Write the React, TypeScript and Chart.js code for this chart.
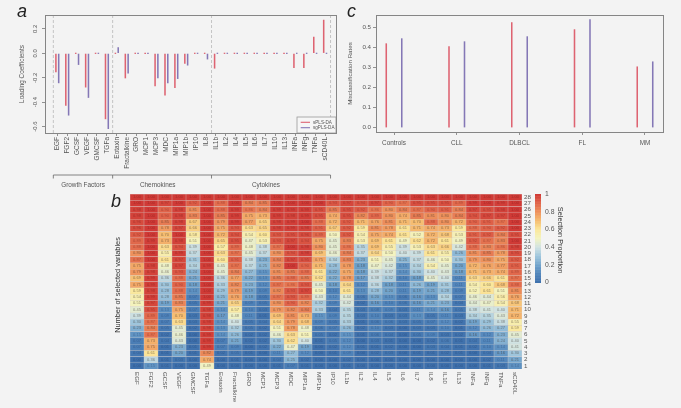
import React, { useEffect, useRef } from "react";
import { Chart, registerables } from "chart.js";

Chart.register(...registerables);

const FONT = "'Liberation Sans', Arial, sans-serif";
const TEXT = "#555555";
const FRAME = "#858585";
const RED = "rgba(216,62,80,0.8)";
const BLUE = "rgba(112,96,170,0.85)";

// Panel a
const biomarkers = ["EGF","FGF2","GCSF","VEGF","GMCSF","TGFa","Eotaxin","Fractalkine","GRO","MCP1","MCP3","MDC","MIP1a","MIP1b","IP10","IL8","IL1b","IL2","IL4","IL5","IL6","IL7","IL10","IL13","INFa","INFg","TNFa","sCD40L"];
const splsLoadings = [-0.155,-0.43,0,-0.28,0,-0.54,0,-0.205,0,0,-0.27,-0.345,-0.285,-0.085,0,0,-0.125,0,0,0,0,0,0,0,-0.12,-0.12,0.135,0.275];
const sgplsLoadings = [-0.245,-0.51,-0.095,-0.365,0,-0.62,0.05,-0.165,0,0,-0.205,-0.245,-0.21,-0.1,0,-0.05,0,0,0,0,0,0,0,0,0,0,0,0];
const loadingTicks = [-0.6,-0.4,-0.2,0,0.2];
const groupBreaks = [0.6,6.58,16.55,28.55];
const groupNames = ["Growth Factors","Chemokines","Cytokines"];

// Panel c
const classes = ["Controls","CLL","DLBCL","FL","MM"];
const splsRates = [0.42,0.405,0.525,0.49,0.305];
const sgplsRates = [0.445,0.43,0.455,0.54,0.33];
const rateTicks = [0,0.1,0.2,0.3,0.4,0.5];

// Panel b
const heatColumns = ["EGF","FGF2","GCSF","VEGF","GMCSF","TGFa","Eotaxin","Fractalkine","GRO","MCP1","MCP3","MDC","MIP1a","MIP1b","IP10","IL1b","IL2","IL4","IL5","IL6","IL7","IL8","IL10","IL13","INFa","INFg","TNFa","sCD40L"];
const colorbarTicks = [0,0.2,0.4,0.6,0.8,1];
const selectionRows = [
[1,1,1,1,1,1,1,1,1,1,1,1,1,1,1,1,1,1,1,1,1,1,1,1,1,1,1,1],
[1,1,.97,1,.92,1,.88,1,.84,.85,1,1,1,1,.93,.97,.94,.97,.9,.87,.95,.95,.95,.89,.99,1,.99,1],
[.98,1,.9,.98,.81,1,.88,.99,.86,.84,.99,.99,.99,.95,.85,.95,.92,.86,.8,.84,.87,.9,.91,.84,.97,.95,.98,1],
[.98,1,.9,.98,.83,1,.85,.99,.75,.73,.99,.98,.99,.95,.74,.95,.82,.89,.8,.74,.85,.81,.8,.84,.94,.97,.97,1],
[.96,1,.85,.98,.67,1,.79,.99,.77,.65,.98,.99,1,.88,.72,.92,.71,.76,.81,.71,.7,.88,.8,.72,.9,.91,.87,1],
[.96,1,.78,.97,.66,1,.75,.93,.63,.65,.98,.99,.98,.91,.67,.92,.59,.81,.78,.61,.71,.74,.73,.59,.88,.9,.92,1],
[.92,1,.7,1,.58,1,.72,.94,.54,.6,.93,.95,.96,.89,.5,.92,.54,.75,.74,.61,.52,.72,.68,.53,.91,.92,.84,.95],
[.89,.99,.73,.98,.51,1,.65,.95,.47,.53,.93,.97,.94,.75,.45,.83,.53,.69,.61,.49,.62,.72,.61,.49,.92,.87,.83,1],
[.88,1,.63,.94,.39,1,.57,.89,.48,.38,.87,1,.98,.8,.45,.86,.35,.69,.55,.39,.53,.63,.66,.42,.88,.83,.86,.98],
[.8,1,.55,.99,.37,1,.63,.87,.45,.37,.8,.94,.98,.69,.46,.84,.37,.64,.5,.4,.39,.61,.55,.26,.81,.85,.78,.95],
[.87,1,.61,.97,.31,1,.6,.91,.38,.23,.84,.97,.95,.75,.34,.83,.23,.51,.45,.25,.37,.46,.5,.3,.79,.8,.75,.92],
[.75,.98,.48,.97,.34,.99,.45,.87,.37,.25,.82,1,.9,.71,.28,.78,.18,.47,.42,.15,.34,.54,.45,.2,.72,.76,.77,.91],
[.79,.98,.46,.93,.24,1,.45,.84,.27,.15,.81,.85,.88,.61,.22,.75,.18,.39,.37,.14,.3,.4,.43,.18,.71,.73,.74,.89],
[.69,.99,.36,.88,.21,1,.36,.77,.22,.13,.85,.88,.85,.62,.22,.78,.17,.38,.32,.1,.18,.45,.4,.11,.63,.66,.61,.87],
[.75,.99,.3,.9,.18,1,.33,.82,.23,.12,.87,.86,.93,.45,.18,.64,.12,.36,.18,.11,.26,.19,.31,.11,.54,.6,.68,.88],
[.59,.98,.28,.88,.14,1,.29,.79,.19,.09,.82,.93,.97,.5,.1,.61,.13,.28,.2,.11,.19,.21,.28,.09,.52,.61,.51,.81],
[.54,.99,.28,.85,.07,1,.25,.76,.18,.05,.87,.93,.89,.43,.12,.44,.06,.2,.13,.06,.16,.13,.34,.07,.46,.44,.56,.76],
[.51,.97,.19,.83,.05,.99,.21,.65,.09,.05,.8,.9,.82,.32,.09,.42,.02,.16,.1,.06,.16,.21,.23,.04,.44,.47,.54,.68],
[.45,.95,.13,.75,.07,.98,.14,.57,.1,.03,.79,.82,.84,.33,.04,.35,.03,.08,.09,.03,.11,.14,.16,.05,.38,.41,.4,.71],
[.39,.89,.09,.7,.03,.98,.17,.48,.11,.01,.69,.81,.73,.15,.09,.35,.03,.1,.03,.03,.13,.05,.11,.03,.34,.35,.43,.72],
[.3,.87,.07,.63,.03,.98,.14,.4,.05,.04,.64,.79,.68,.09,.05,.33,.01,.06,.06,.03,.05,.07,.12,.02,.19,.29,.38,.55],
[.23,.84,.05,.45,.02,.98,.13,.32,.05,.02,.51,.78,.48,.06,.07,.26,.02,.1,.03,0,.03,.03,.1,.01,.12,.26,.27,.59],
[.15,.87,.02,.46,0,.99,.14,.26,.02,.02,.46,.63,.51,.05,.02,.15,.01,.06,.04,0,.05,.09,.03,.02,.16,.12,.23,.45],
[.07,.73,.04,.43,0,.99,.07,.21,.02,.02,.3,.62,.4,.01,.05,.12,0,.03,.01,0,0,.02,.06,.01,.04,.11,.24,.4],
[.07,.75,.01,.23,.01,.99,.07,.09,0,.02,.22,.47,.19,0,.02,.12,.01,.01,.02,0,0,.03,.04,.01,.02,.1,.14,.41],
[.04,.61,.01,.2,.01,.82,.02,.05,.01,0,.11,.27,.12,0,.01,.09,0,.02,.03,0,.01,.01,.02,.01,0,.04,.16,.3],
[0,.36,.01,.03,0,.74,0,.01,0,0,.04,.25,.02,0,0,.02,0,0,0,0,0,0,0,0,0,.02,.11,.21],
[0,.15,.01,0,0,.49,0,0,0,0,.01,.07,.01,0,0,.01,0,0,0,0,0,0,0,0,0,.01,.03,.14],
];
const rowLabels = selectionRows.map((_, i) => String(selectionRows.length - i));

const colorStops: [number, number[]][] = [
  [0,[62,112,172]],[0.1,[80,132,186]],[0.2,[114,164,204]],[0.3,[158,197,220]],[0.4,[208,226,226]],
  [0.5,[243,243,192]],[0.6,[251,231,154]],[0.7,[246,189,113]],[0.8,[238,145,92]],[0.9,[224,100,74]],[1,[208,58,54]],
];
function heat(v: number) {
  for (let i = 1; i < colorStops.length; i++) {
    if (v <= colorStops[i][0]) {
      const [a, ca] = colorStops[i - 1];
      const [b, cb] = colorStops[i];
      const t = (v - a) / (b - a);
      return `rgb(${ca.map((c, k) => Math.round(c + (cb[k] - c) * t)).join(",")})`;
    }
  }
  return "rgb(208,58,54)";
}

const framePlugin = {
  id: "frame",
  afterDraw(chart: any) {
    const { ctx, chartArea: a } = chart;
    ctx.save();
    ctx.strokeStyle = FRAME;
    ctx.lineWidth = 1;
    ctx.strokeRect(Math.round(a.left) + 0.5, Math.round(a.top) + 0.5, a.right - a.left, a.bottom - a.top);
    ctx.restore();
  },
};

function letter(ctx: any, s: string, x: number, y: number) {
  ctx.save();
  ctx.fillStyle = "#222";
  ctx.font = `italic 18px ${FONT}`;
  ctx.textAlign = "left";
  ctx.textBaseline = "alphabetic";
  ctx.fillText(s, x, y);
  ctx.restore();
}

function baseTicks(size: number) {
  return { color: TEXT, font: { family: FONT, size } };
}

const panelA = {
  id: "panelA",
  beforeDatasetsDraw(chart: any) {
    const { ctx, chartArea: a, scales } = chart;
    ctx.save();
    ctx.strokeStyle = "#b8b8b8";
    ctx.lineWidth = 0.8;
    ctx.setLineDash([3, 2]);
    for (const b of groupBreaks) {
      const x = scales.x.getPixelForValue(b);
      ctx.beginPath();
      ctx.moveTo(x, a.top);
      ctx.lineTo(x, a.bottom);
      ctx.stroke();
    }
    ctx.restore();
  },
  afterDraw(chart: any) {
    const { ctx, chartArea: a, scales } = chart;
    letter(ctx, "a", 17, 17);
    ctx.save();
    ctx.strokeStyle = "#666";
    ctx.lineWidth = 0.8;
    ctx.beginPath();
    const y = 175;
    groupBreaks.forEach((b, i) => {
      const x = scales.x.getPixelForValue(b);
      ctx.moveTo(x, y);
      ctx.lineTo(x, y + 3.5);
      if (i) {
        ctx.moveTo(scales.x.getPixelForValue(groupBreaks[i - 1]), y);
        ctx.lineTo(x, y);
      }
    });
    ctx.stroke();
    ctx.fillStyle = TEXT;
    ctx.font = `6.4px ${FONT}`;
    ctx.textAlign = "center";
    ctx.textBaseline = "middle";
    const centers = [83, 157.7, 266];
    groupNames.forEach((n, i) => ctx.fillText(n, centers[i], 185));
    const lx = a.right - 39, ly = a.bottom - 16;
    ctx.fillStyle = "#f6f6f6";
    ctx.strokeStyle = "#9a9a9a";
    ctx.lineWidth = 0.8;
    ctx.fillRect(lx, ly, 39, 16);
    ctx.strokeRect(lx, ly, 39, 16);
    chart.data.datasets.forEach((d: any, i: number) => {
      const yy = ly + 5.3 + i * 5.4;
      ctx.strokeStyle = d.backgroundColor;
      ctx.lineWidth = 1.1;
      ctx.beginPath();
      ctx.moveTo(lx + 3.7, yy);
      ctx.lineTo(lx + 13, yy);
      ctx.stroke();
      ctx.fillStyle = TEXT;
      ctx.font = `4.6px ${FONT}`;
      ctx.textAlign = "left";
      ctx.fillText(d.label, lx + 16, yy);
    });
    ctx.restore();
  },
};

const panelC = {
  id: "panelC",
  afterDraw(chart: any) {
    letter(chart.ctx, "c", 7, 17);
  },
};

const panelB = {
  id: "panelB",
  afterDatasetsDraw(chart: any) {
    const { ctx, chartArea: a, scales } = chart;
    ctx.save();
    ctx.textAlign = "center";
    ctx.textBaseline = "middle";
    ctx.font = `4px ${FONT}`;
    chart.data.datasets.forEach((d: any, i: number) => {
      const meta = chart.getDatasetMeta(i);
      meta.data.forEach((el: any, j: number) => {
        const v = selectionRows[selectionRows.length - 1 - i][j];
        ctx.fillStyle = v > 0.85 ? "rgba(90,20,20,0.4)" : v > 0.15 ? "rgba(60,50,40,0.55)" : "rgba(20,40,80,0.35)";
        ctx.fillText(v.toFixed(2), el.x, (el.y + el.base) / 2);
      });
    });
    ctx.fillStyle = TEXT;
    ctx.font = `6.2px ${FONT}`;
    ctx.textAlign = "left";
    scales.x.getLabels().forEach((label: string, i: number) => {
      ctx.save();
      ctx.translate(scales.x.getPixelForTick(i), a.bottom + 3);
      ctx.rotate(Math.PI / 2);
      ctx.fillText(label, 0, 0);
      ctx.restore();
    });
    ctx.save();
    ctx.translate(18, 97);
    ctx.rotate(-Math.PI / 2);
    ctx.textAlign = "center";
    ctx.font = `7.4px ${FONT}`;
    ctx.fillStyle = "#333";
    ctx.fillText("Number of selected variables", 0, 0);
    ctx.restore();
    const bx = 435, bw = 6, bTop = 6, bBottom = 94.5;
    const steps = 120;
    for (let s = 0; s < steps; s++) {
      ctx.fillStyle = heat(1 - s / steps);
      ctx.fillRect(bx, bTop + ((bBottom - bTop) * s) / steps, bw, (bBottom - bTop) / steps + 0.5);
    }
    ctx.fillStyle = TEXT;
    ctx.font = `6.8px ${FONT}`;
    ctx.textAlign = "left";
    colorbarTicks.forEach((t) => {
      ctx.fillText(String(t), bx + 10, bBottom - (bBottom - bTop) * t);
    });
    ctx.save();
    ctx.translate(460, 52);
    ctx.rotate(Math.PI / 2);
    ctx.textAlign = "center";
    ctx.font = `7.4px ${FONT}`;
    ctx.fillStyle = "#333";
    ctx.fillText("Selection Proportion", 0, 0);
    ctx.restore();
    ctx.restore();
    letter(ctx, "b", 11, 19);
  },
};

function valueTickScale(values: number[], labels: string[] | null, extra: any) {
  return {
    afterBuildTicks(s: any) {
      s.ticks = values.map((value) => ({ value }));
    },
    ...extra,
    ticks: {
      ...extra.ticks,
      autoSkip: false,
      ...(labels ? { callback: (v: any) => labels[Math.round(v) - 1] } : {}),
    },
  };
}

export default function App() {
  const aRef = useRef<HTMLCanvasElement>(null);
  const bRef = useRef<HTMLCanvasElement>(null);
  const cRef = useRef<HTMLCanvasElement>(null);

  useEffect(() => {
    const common = {
      responsive: false,
      animation: false as const,
      plugins: { legend: { display: false }, tooltip: { enabled: false } },
    };
    const ga = { drawOnChartArea: false, color: "#777", tickLength: 3, lineWidth: 0.8, offset: false };

    const a = new Chart(aRef.current!, {
      type: "bar",
      data: {
        datasets: [
          { label: "sPLS-DA", data: splsLoadings.map((y, i) => ({ x: i + 1, y })), backgroundColor: RED, minBarLength: 1.2, categoryPercentage: 0.565, barPercentage: 0.55 },
          { label: "sgPLS-DA", data: sgplsLoadings.map((y, i) => ({ x: i + 1, y })), backgroundColor: BLUE, minBarLength: 1.2, categoryPercentage: 0.565, barPercentage: 0.55 },
        ],
      } as any,
      options: {
        ...common,
        layout: { padding: { top: 15, right: 4, left: 0, bottom: 0 } },
        scales: {
          x: valueTickScale(biomarkers.map((_, i) => i + 1), biomarkers, {
            type: "linear", min: -0.24, max: 29.1, offset: false,
            grid: ga, border: { display: false },
            afterFit(s: any) { s.height = 57; },
            ticks: { ...baseTicks(6.5), minRotation: 90, maxRotation: 90, padding: 1 },
          }),
          y: valueTickScale(loadingTicks, null, {
            min: -0.653, max: 0.314,
            grid: ga, border: { display: false },
            afterFit(s: any) { s.width = 45; },
            title: { display: true, text: "Loading Coefficients", color: TEXT, font: { family: FONT, size: 6.4 }, padding: { top: 18, bottom: 0 } },
            ticks: { ...baseTicks(6), minRotation: 90, maxRotation: 90, crossAlign: "center", padding: 1, callback: (v: any) => Number(v).toFixed(1) },
          }),
        },
      } as any,
      plugins: [panelA, framePlugin],
    });

    const c = new Chart(cRef.current!, {
      type: "bar",
      data: {
        datasets: [
          { label: "sPLS-DA", data: splsRates.map((y, i) => ({ x: i + 1, y })), backgroundColor: RED, categoryPercentage: 0.494, barPercentage: 0.1 },
          { label: "sgPLS-DA", data: sgplsRates.map((y, i) => ({ x: i + 1, y })), backgroundColor: BLUE, categoryPercentage: 0.494, barPercentage: 0.1 },
        ],
      } as any,
      options: {
        ...common,
        layout: { padding: { top: 15, right: 18, left: 0, bottom: 0 } },
        scales: {
          x: valueTickScale(classes.map((_, i) => i + 1), classes, {
            type: "linear", min: 0.713, max: 5.287, offset: false,
            grid: ga, border: { display: false },
            afterFit(s: any) { s.height = 38; },
            ticks: { ...baseTicks(6.4), minRotation: 0, maxRotation: 0, padding: 4 },
          }),
          y: valueTickScale(rateTicks, null, {
            min: -0.021, max: 0.561,
            grid: ga, border: { display: false },
            afterFit(s: any) { s.width = 36; },
            title: { display: true, text: "Misclassification Rates", color: TEXT, font: { family: FONT, size: 6.2 }, padding: { top: 7, bottom: 0 } },
            ticks: { ...baseTicks(6.2), padding: 2, callback: (v: any) => Number(v).toFixed(1) },
          }),
        },
      } as any,
      plugins: [panelC, framePlugin],
    });

    const reversed = [...selectionRows].reverse();
    const b = new Chart(bRef.current!, {
      type: "bar",
      data: {
        labels: heatColumns,
        datasets: reversed.map((row, i) => ({
          label: rowLabels[selectionRows.length - 1 - i],
          data: row.map(() => 1),
          backgroundColor: row.map(heat),
          borderColor: "rgba(120,80,70,0.22)",
          borderWidth: 0.5,
          barPercentage: 1,
          categoryPercentage: 1,
        })),
      } as any,
      options: {
        ...common,
        layout: { padding: { top: 6, right: 147, left: 30, bottom: 0 } },
        scales: {
          x: {
            stacked: true,
            grid: { display: false },
            border: { display: false },
            ticks: { display: false },
            afterFit(s: any) { s.height = 39; },
          },
          y: valueTickScale(rowLabels.map((_, i) => i + 0.5), null, {
            stacked: true, position: "right", min: 0, max: 28,
            grid: { display: false, drawTicks: false },
            border: { display: false },
            afterFit(s: any) { s.width = 12; },
            ticks: { ...baseTicks(6.2), padding: 2, callback: (v: any) => String(Math.round(v + 0.5)) },
          }),
        },
      } as any,
      plugins: [panelB],
    });

    return () => {
      a.destroy();
      b.destroy();
      c.destroy();
    };
  }, []);

  const abs = (left: number, top: number): React.CSSProperties => ({ position: "absolute", left, top, display: "block", filter: "blur(0.35px)" });
  return (
    <div style={{ position: "fixed", inset: 0, width: 681, height: 408, background: "#f3f3f3", overflow: "hidden" }}>
      <canvas ref={aRef} width={340} height={190} style={{ ...abs(0, 0), width: 340, height: 190 }} />
      <canvas ref={cRef} width={341} height={170} style={{ ...abs(340, 0), width: 341, height: 170 }} />
      <canvas ref={bRef} width={581} height={220} style={{ ...abs(100, 188), width: 581, height: 220 }} />
    </div>
  );
}
